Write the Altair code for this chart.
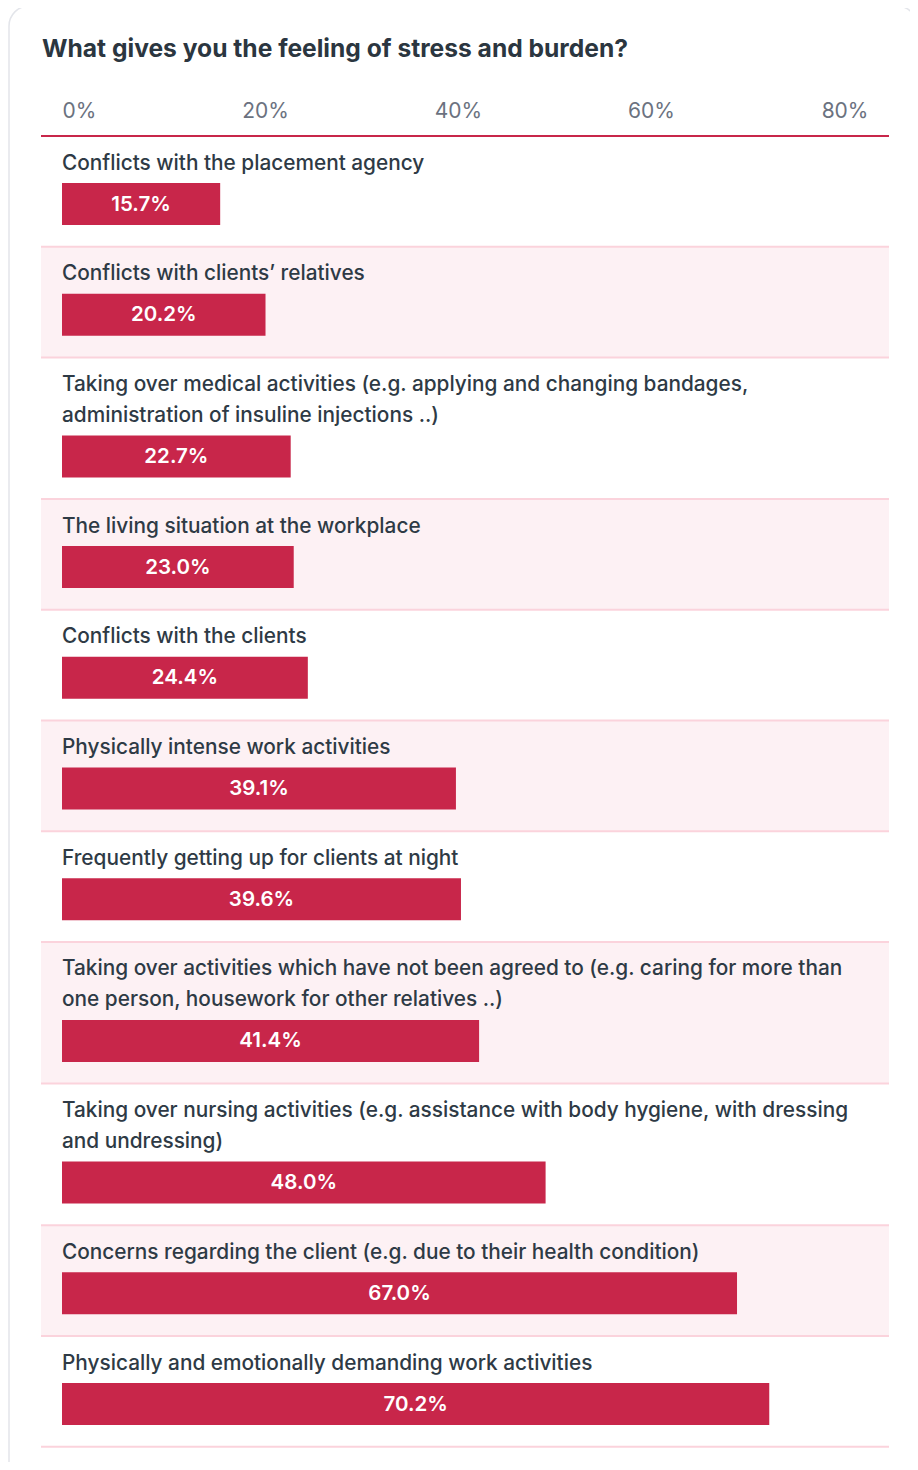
import altair as alt
import pandas as pd

categories = [
    "Conflicts with the placement agency",
    "Conflicts with clients’ relatives",
    "Taking over medical activities (e.g. applying and changing bandages,\nadministration of insuline injections ..)",
    "The living situation at the workplace",
    "Conflicts with the clients",
    "Physically intense work activities",
    "Frequently getting up for clients at night",
    "Taking over activities which have not been agreed to (e.g. caring for more than\none person, housework for other relatives ..)",
    "Taking over nursing activities (e.g. assistance with body hygiene, with dressing\nand undressing)",
    "Concerns regarding the client (e.g. due to their health condition)",
    "Physically and emotionally demanding work activities",
]
values = [15.7, 20.2, 22.7, 23.0, 24.4, 39.1, 39.6, 41.4, 48.0, 67.0, 70.2]
tick_values = [0, 20, 40, 60, 80]
title_text = "What gives you the feeling of stress and burden?"

# layout (pixel units along a reversed y scale)
ROW_H = 110.7
LINE_H = 31
PLOT_W = 806
PLOT_H = 1326

rows, lines = [], []
top = 0.0
for i, (cat, val) in enumerate(zip(categories, values)):
    parts = cat.split("\n")
    n = len(parts)
    h = ROW_H + LINE_H * (n - 1)
    bt = top + 47 + LINE_H * (n - 1)
    rows.append(dict(category=cat, value=val, half=val / 2, zero=0.0, top=top, bottom=top + h,
                     bar_top=bt, bar_bot=bt + 42, mid=bt + 21.5,
                     shade=(i % 2 == 1), first=(i == 0), label=f"{val:.1f}%"))
    for k, p in enumerate(parts):
        lines.append(dict(line=p, y=top + 27.5 + LINE_H * k))
    top += h

df = pd.DataFrame(rows)
dl = pd.DataFrame(lines)
dt = pd.DataFrame({"title": [title_text]})

yscale = alt.Scale(domain=[0, PLOT_H], reverse=True, nice=False, zero=False)
xscale = alt.Scale(domain=[0, 80], nice=False, zero=True)

RED = "#c8264a"
FONT = "Inter"

base = alt.Chart(df)

card = base.mark_rect(fill="transparent", stroke="#e3e5ea", strokeWidth=1.5, cornerRadius=20).encode(
    x=alt.value(-53), x2=alt.value(855),
    y=alt.value(-130), y2=alt.value(1400),
).transform_filter("datum.first")

title = alt.Chart(dt).mark_text(align="left", baseline="alphabetic", fontSize=24.6, fontWeight=700,
                                font=FONT, color="#2b3640").encode(
    x=alt.value(-20), y=alt.value(-79), text="title:N",
)

shade = base.mark_rect(fill="#fdf1f4").encode(
    x=alt.value(-21), x2=alt.value(827),
    y=alt.Y("top:Q", scale=yscale, axis=None), y2="bottom:Q",
).transform_filter("datum.shade")

seps = base.mark_rule(color="#fbd3dc", strokeWidth=2).encode(
    x=alt.value(-21), x2=alt.value(827),
    y=alt.Y("bottom:Q", scale=yscale, axis=None),
)

axis_line = base.mark_rule(color=RED, strokeWidth=2).encode(
    x=alt.value(-21), x2=alt.value(827),
    y=alt.Y("zero:Q", scale=yscale, axis=None),
).transform_filter("datum.first")

label_offset = {
    "condition": [
        {"test": "datum.value == 20", "value": 1.5},
        {"test": "datum.value == 40", "value": -7},
        {"test": "datum.value == 60", "value": -15.5},
    ],
    "value": 0,
}

bars = base.mark_rect(color=RED).encode(
    x=alt.X("value:Q", scale=xscale, title=None,
            axis=alt.Axis(orient="top", values=tick_values, labelExpr="datum.value + '%'",
                          domain=False, ticks=False, grid=False, labelFlush=True,
                          labelFontSize=21, labelFont=FONT, labelColor="#6b7280",
                          labelPadding=19, labelBaseline="alphabetic", zindex=1,
                          labelOffset=label_offset)),
    x2="zero:Q",
    y=alt.Y("bar_top:Q", scale=yscale, axis=None), y2="bar_bot:Q",
)

vals = base.mark_text(color="white", fontSize=20.5, fontWeight=600, font=FONT,
                      align="center", baseline="middle").encode(
    x=alt.X("half:Q", scale=xscale),
    y=alt.Y("mid:Q", scale=yscale, axis=None),
    text="label:N",
)

labels = alt.Chart(dl).mark_text(align="left", baseline="middle", fontSize=20.8, fontWeight=500,
                                 font=FONT, color="#2e3a45").encode(
    x=alt.value(0),
    y=alt.Y("y:Q", scale=yscale, axis=None),
    text="line:N",
)

chart = alt.layer(card, title, shade, seps, axis_line, bars, vals, labels).properties(
    width=PLOT_W, height=PLOT_H,
    autosize=alt.AutoSizeParams(type="none"),
    padding={"left": 54, "top": 128, "right": 42, "bottom": 0},
).configure(background="white").configure_view(stroke=None)

chart.save("out.html", embed_options={"renderer": "svg", "actions": False})
